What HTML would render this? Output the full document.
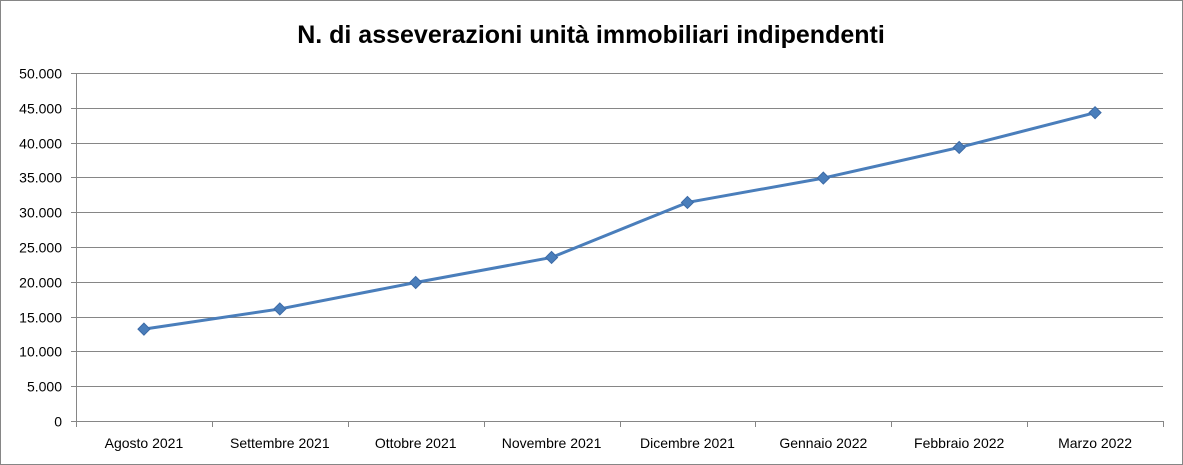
<!DOCTYPE html>
<html><head><meta charset="utf-8">
<style>
html,body{margin:0;padding:0;background:#fff;}
svg{display:block;font-family:"Liberation Sans",Arial,sans-serif;}
</style></head>
<body>
<svg id="chart" width="1183" height="465" viewBox="0 0 1183 465">
<rect x="0.5" y="0.5" width="1182" height="464" fill="#fff" stroke="#868686"/>
<text x="591" y="43" text-anchor="middle" font-size="25" font-weight="bold" fill="#000">N. di asseverazioni unità immobiliari indipendenti</text>
<g id="grid"></g><g id="axes"></g><g id="series"></g>
</svg>
<script>
const categories=["Agosto 2021","Settembre 2021","Ottobre 2021","Novembre 2021","Dicembre 2021","Gennaio 2022","Febbraio 2022","Marzo 2022"];
const values=[13200,16100,19900,23500,31400,34900,39300,44300];
const yTicks=[0,5000,10000,15000,20000,25000,30000,35000,40000,45000,50000];
const yTickLabels=["0","5.000","10.000","15.000","20.000","25.000","30.000","35.000","40.000","45.000","50.000"];
const NS="http://www.w3.org/2000/svg";
const L=76,R=1163,T=73,B=421,yMax=50000;
const yS=v=>B-(v/yMax)*(B-T);
const bw=(R-L)/categories.length;
const xS=i=>L+bw*(i+0.5);
function mk(t,a,p){const e=document.createElementNS(NS,t);for(const k in a)e.setAttribute(k,a[k]);p.appendChild(e);return e;}
const grid=document.getElementById('grid'),axes=document.getElementById('axes'),series=document.getElementById('series');
yTicks.forEach((v,i)=>{
  const y=Math.round(yS(v))+0.5;
  if(v>0){const g=mk('line',{x1:L,x2:R,y1:y,y2:y,stroke:'#868686','stroke-width':1},grid);
  
  }
  const tk=mk('line',{x1:L-5,x2:L,y1:y,y2:y,stroke:'#868686'},axes);
  
  
  const t=mk('text',{x:L-14,y:y+5,'text-anchor':'end','font-size':14,fill:'#000'},axes);
  t.textContent=yTickLabels[i];
  
  
});
const ya=mk('line',{x1:L+0.5,x2:L+0.5,y1:T,y2:B,stroke:'#868686'},axes);


const xa=mk('line',{x1:L,x2:R,y1:B+0.5,y2:B+0.5,stroke:'#868686'},axes);


for(let i=0;i<=categories.length;i++){
  const x=Math.round(L+bw*i)+0.5;
  const tk=mk('line',{x1:x,x2:x,y1:B,y2:B+6,stroke:'#868686'},axes);
  
  
}
categories.forEach((c,i)=>{
  const t=mk('text',{x:xS(i),y:448,'text-anchor':'middle','font-size':14,fill:'#000'},axes);
  t.textContent=c;
  
  
});
const pts=values.map((v,i)=>xS(i)+','+yS(v)).join(' ');
const pl=mk('polyline',{points:pts,fill:'none',stroke:'#4A7EBB','stroke-width':3,'stroke-linejoin':'round'},series);


values.forEach((v,i)=>{
  const x=xS(i),y=yS(v),s=6;
  const m=mk('polygon',{points:`${x},${y-s} ${x+s},${y} ${x},${y+s} ${x-s},${y}`,fill:'#4A7EBB',stroke:'#3C6AA6','stroke-width':1},series);
  
  
});
</script>
</body></html>
